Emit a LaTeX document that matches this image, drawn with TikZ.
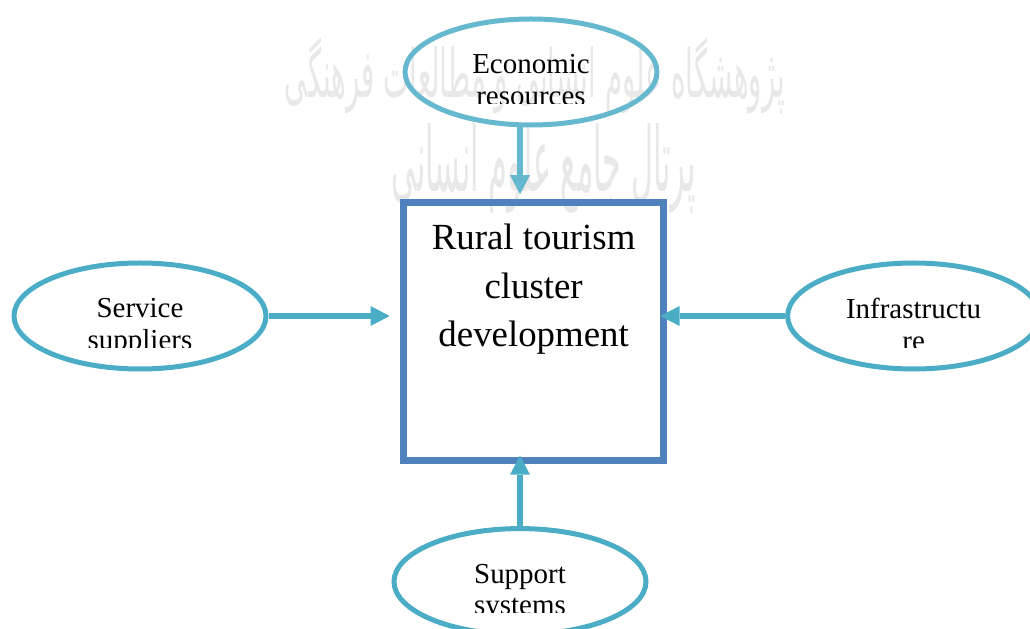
\documentclass[tikz,border=0pt]{standalone}
\usepackage{fontspec}
\setmainfont{Liberation Serif}
\newfontfamily\persianfont[Script=Arabic]{DejaVu Sans}
\TeXXeTstate=1
\usetikzlibrary{shapes.geometric,arrows.meta,positioning}
\definecolor{ovalblue}{RGB}{75,172,198}
\definecolor{boxblue}{RGB}{79,129,189}

\begin{document}
\begin{tikzpicture}[
        hub/.style={rectangle, draw=boxblue, line width=0.175cm, minimum width=6.5cm, minimum height=6.44cm, inner sep=0pt},
        hubtext/.style={inner sep=0pt, align=center, font=\fontsize{26.2}{34.4}\selectfont},
        oval/.style={ellipse, draw=ovalblue, line width=0.125cm, minimum width=6.3cm, minimum height=2.65cm, inner sep=0pt},
        ovaltext/.style={inner sep=0pt, anchor=north, align=center, font=\fontsize{20.6}{22.7}\selectfont},
        flow/.style={-{Triangle[length=0.48cm, width=0.5cm, line width=0pt]}, draw=ovalblue, line width=0.14cm},
        wmark/.style={inner sep=0pt, text=black!9, font=\persianfont}
    ]
    \useasboundingbox (0,0) rectangle (25.75,15.7);

    % faint watermark
    \node[wmark] (wmtop) at (13.375,13.8) {\resizebox{12.5cm}{1.5cm}{\beginR پژوهشگاه علوم انسانی و مطالعات فرهنگی\endR}};
    \node[wmark] (wmbottom) at (13.6,11.5) {\resizebox{7.6cm}{1.7cm}{\beginR پرتال جامع علوم انسانی\endR}};

    % centre box
    \node[hub] (hub) at (13.34,7.41) {};
    \node[hubtext, below=0.62cm of hub.north] (hublabel) {Rural tourism\\cluster\\development};

    % the four factors
    \node[oval, draw=ovalblue!85] (eco) at (13.275,13.9) {};
    \node[oval] (svc) at (3.5,7.8) {};
    \node[oval] (inf) at (22.84,7.8) {};
    \node[oval] (sup) at (13.0,1.16) {};

    % labels, cut off at the second line
    \begin{scope}
        \clip ([yshift=-0.78cm]eco.west) rectangle (eco.north -| eco.east);
        \node[ovaltext] (ecolabel) at ([yshift=0.45cm]eco.center) {Economic\\resources};
    \end{scope}
    \begin{scope}
        \clip ([yshift=-0.78cm]svc.west) rectangle (svc.north -| svc.east);
        \node[ovaltext] (svclabel) at ([yshift=0.45cm]svc.center) {Service\\suppliers};
    \end{scope}
    \begin{scope}
        \clip ([yshift=-0.78cm]inf.west) rectangle (inf.north -| inf.east);
        \node[ovaltext] (inflabel) at ([yshift=0.45cm]inf.center) {Infrastructu\\re};
    \end{scope}
    \begin{scope}
        \clip ([yshift=-0.78cm]sup.west) rectangle (sup.north -| sup.east);
        \node[ovaltext] (suplabel) at ([yshift=0.45cm]sup.center) {Support\\systems};
    \end{scope}

    \draw[flow, draw=ovalblue!85, shorten >=0.125cm] (eco.south -| sup.north) -- (hub.north -| sup.north);
    \draw[flow, shorten >=0.26cm] (svc.east) -- (svc.east -| hub.west);
    \draw[flow, shorten >=-0.17cm] (inf.west) -- (inf.west -| hub.east);
    \draw[flow, shorten >=-0.21cm] (sup.north) -- (sup.north |- hub.south);
\end{tikzpicture}
\end{document}
